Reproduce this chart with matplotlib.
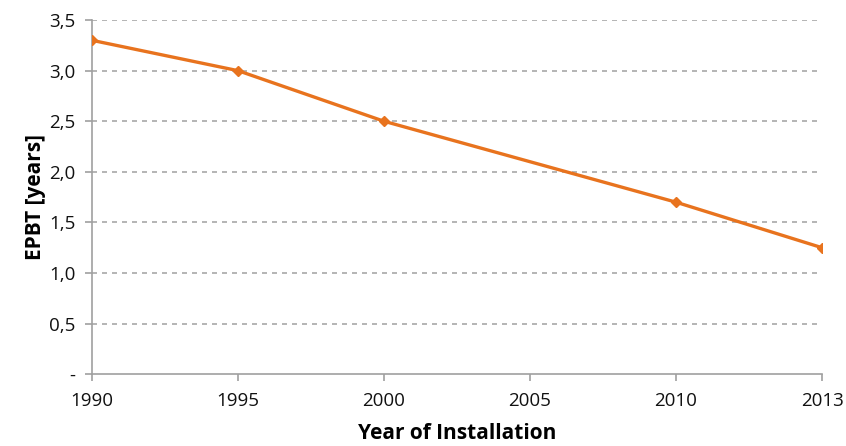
import matplotlib.pyplot as plt
import numpy as np

years = ['1990', '1995', '2000', '2005', '2010', '2013']
# no value reported for 2005; the line just runs across it
epbt = [3.3, 3.0, 2.5, np.nan, 1.7, 1.25]
y_ticks = [0, 0.5, 1.0, 1.5, 2.0, 2.5, 3.0, 3.5]
y_labels = ['-', '0,5', '1,0', '1,5', '2,0', '2,5', '3,0', '3,5']

plt.rcParams['font.family'] = ['Open Sans', 'DejaVu Sans']

fig = plt.figure(figsize=(8.46, 4.46), dpi=100)
ax = fig.add_axes([0.1087, 0.161, 0.863, 0.794])

x = np.arange(len(years))
mask = ~np.isnan(epbt)
ax.plot(x[mask], np.array(epbt)[mask], color='#e8731e', lw=2.4,
        marker='D', ms=5, zorder=3)

ax.set_xlim(0, len(years) - 1)
ax.set_ylim(0, 3.5)
ax.set_xticks(x)
ax.set_xticklabels(years, fontsize=13.5, color='#111111')
ax.set_yticks(y_ticks)
ax.set_yticklabels(y_labels, fontsize=13.5, color='#111111')

for v in y_ticks[1:]:
    ax.axhline(v, color='#a8a8a8', lw=1.2, ls=(0, (3, 3)), zorder=1)

for s in ['top', 'right']:
    ax.spines[s].set_visible(False)
for s in ['left', 'bottom']:
    ax.spines[s].set_color('#a0a0a0')
    ax.spines[s].set_linewidth(1.2)
ax.tick_params(axis='x', color='#a0a0a0', length=5, width=1.2, pad=8)
ax.tick_params(axis='y', color='#a0a0a0', length=5, width=1.2, pad=7)

ax.set_xlabel('Year of Installation', fontsize=15, fontweight='bold', labelpad=9)
ax.set_ylabel('EPBT [years]', fontsize=15, fontweight='bold', labelpad=2)

fig.savefig('out.png', dpi=100)
